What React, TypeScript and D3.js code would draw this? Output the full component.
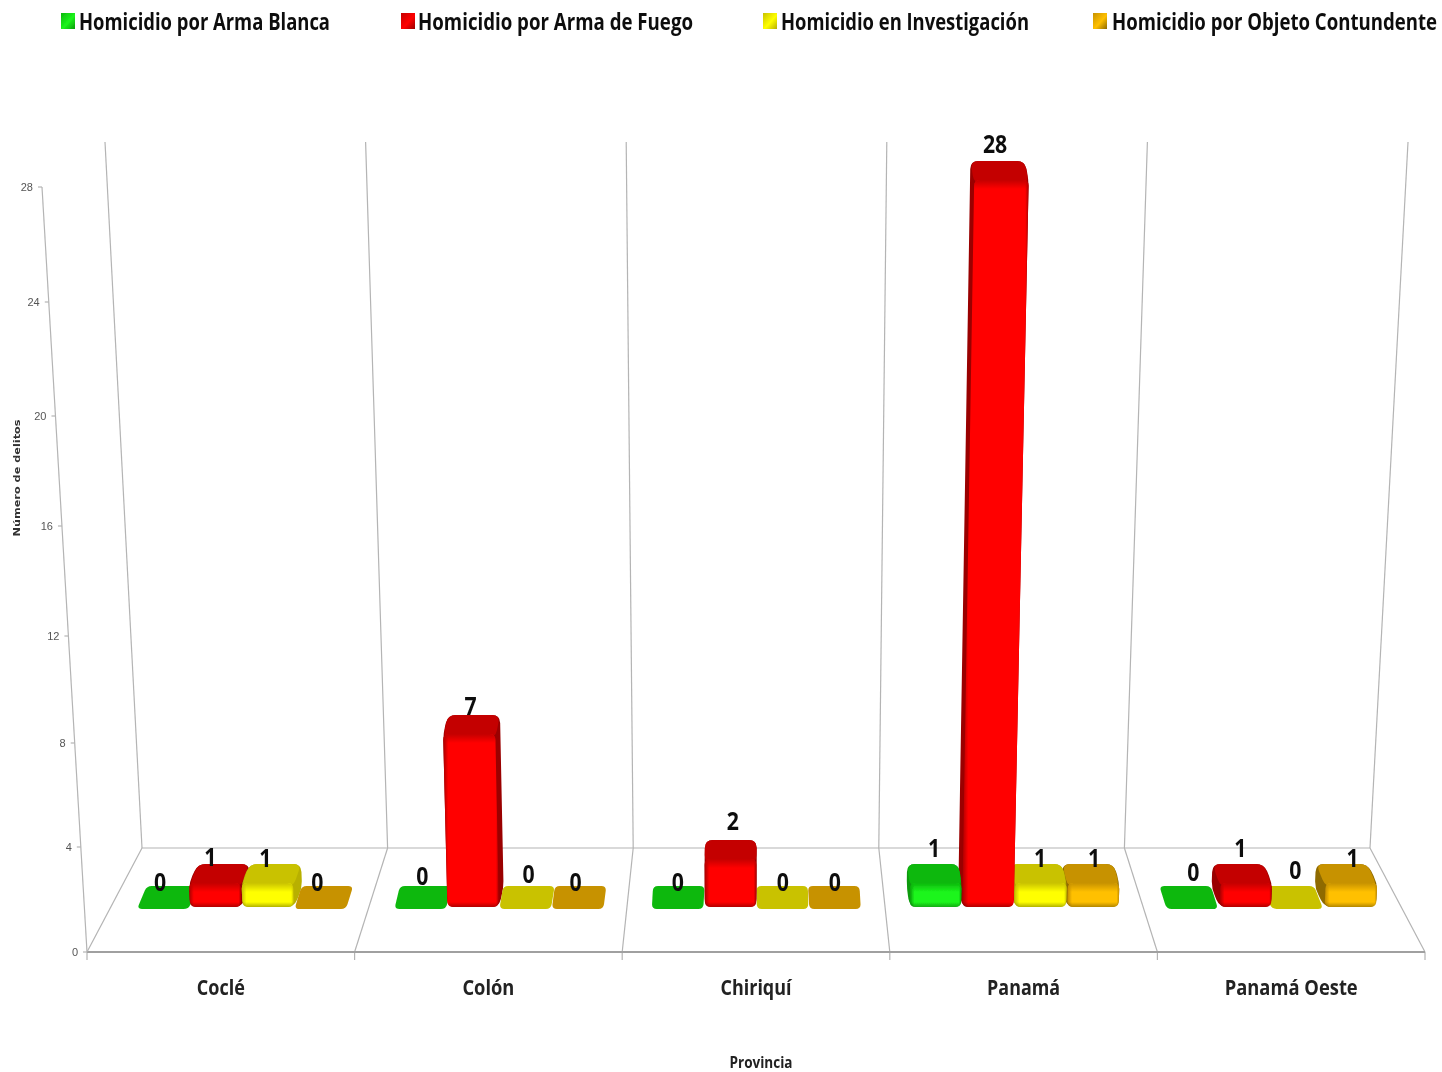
import React from "react";
import * as d3 from "d3";

const provinces = ["Coclé", "Colón", "Chiriquí", "Panamá", "Panamá Oeste"];
const seriesNames = [
  "Homicidio por Arma Blanca",
  "Homicidio por Arma de Fuego",
  "Homicidio en Investigación",
  "Homicidio por Objeto Contundente",
];
const armaBlanca = [0, 0, 0, 1, 0];
const armaFuego = [1, 7, 2, 28, 1];
const investigacion = [1, 0, 0, 1, 0];
const contundente = [0, 0, 0, 1, 1];
const seriesValues = [armaBlanca, armaFuego, investigacion, contundente];
const yTicks = [0, 4, 8, 12, 16, 20, 24, 28];

const palette = [
  { front: "#1cf51c", edge: "#0a9a0a", top: "#0cb80c", side: "#0a9a0a" },
  { front: "#ff0000", edge: "#a80000", top: "#c40000", side: "#9a0000" },
  { front: "#ffff00", edge: "#c8c000", top: "#c9c200", side: "#b8b000" },
  { front: "#ffc000", edge: "#c08a00", top: "#c79200", side: "#8e6a00" },
];

const W = 1442, H = 1072;
const cx = 756;
const yFront = 952, yBack = 848, yTop = 142, barBase = 907;
const frontX = d3.scaleLinear().domain([0, 5]).range([87, 1425]);
const backX = d3.scaleLinear().domain([0, 5]).range([142, 1370]);
const topX = d3.scaleLinear().domain([0, 5]).range([105, 1408]);
const axisY = d3.scaleLinear().domain(yTicks).range([952, 847, 743, 636, 526, 416, 302, 187]);
const axisX = d3.scaleLinear().domain([952, 187]).range([87, 42]);
const barTop = d3.scaleLinear().domain([1, 2, 7, 28]).range([864, 840, 715, 161]);
const group = d3.scaleBand().domain(provinces).range([112, 1399]);
const inner = d3.scaleBand().domain(seriesNames).range([25, 235]);

const depth = 19;
const skew = (x: number) => 0.0165 * (cx - x);
const lean = (x: number, y: number) => cx + (x - cx) * (1 + 8e-5 * (barBase - y));

type Pt = [number, number];
function rounded(pts: Pt[], r: number) {
  const p = d3.path();
  const n = pts.length;
  const along = (a: Pt, b: Pt, dist: number): Pt => {
    const L = Math.hypot(b[0] - a[0], b[1] - a[1]) || 1;
    const t = Math.min(dist / L, 0.5);
    return [a[0] + (b[0] - a[0]) * t, a[1] + (b[1] - a[1]) * t];
  };
  pts.forEach((c, i) => {
    const prev = pts[(i + n - 1) % n];
    const next = pts[(i + 1) % n];
    const a = along(c, prev, r);
    const b = along(c, next, r);
    if (i === 0) p.moveTo(a[0], a[1]);
    else p.lineTo(a[0], a[1]);
    p.quadraticCurveTo(c[0], c[1], b[0], b[1]);
  });
  p.closePath();
  return p.toString();
}

const labelDx = [
  [-8, -1, -1, 0, 4],
  [-10, -5, 2, 9, -1],
  [-7, 1, 0, 2, 2],
  [-7, -4, 0, 4, 7],
];
const labelDy = [
  [-2, -8, -2, -1, -12],
  [8, 6, -4, -2, -1],
  [9, -10, -2, 9, -14],
  [-2, -2, -2, 9, 9],
];

type Bar = { p: number; s: number; v: number; x0: number; x1: number };
const bars: Bar[] = [];
provinces.forEach((name, p) =>
  seriesNames.forEach((sn, s) => {
    const x0 = group(name)! + inner(sn)!;
    bars.push({ p, s, v: seriesValues[s][p], x0, x1: x0 + inner.bandwidth() });
  })
);
const order = [...bars].sort(
  (a, b) => Math.abs((b.x0 + b.x1) / 2 - cx) - Math.abs((a.x0 + a.x1) / 2 - cx)
);

function BarMark({ b }: { b: Bar }) {
  const c = palette[b.s];
  const xc = (b.x0 + b.x1) / 2;
  const dx = skew(xc);
  if (b.v === 0) {
    const yB = 886, yF = 909;
    const d = rounded(
      [
        [b.x0, yF],
        [b.x1 - 1, yF],
        [b.x1 - 1 + dx, yB],
        [b.x0 + dx, yB],
      ],
      5
    );
    return <path d={d} fill={c.top} />;
  }
  const back = barTop(b.v);
  const fy = back + depth;
  const l = b.x0 + 0.5, r = b.x1 - 0.5;
  const lt = lean(l, fy), rt = lean(r, fy);
  const hull: Pt[] =
    dx >= 0
      ? [
          [l, barBase],
          [r, barBase],
          [r + dx, barBase - depth],
          [rt + dx, back],
          [lt + dx, back],
          [lt, fy],
        ]
      : [
          [l, barBase],
          [r, barBase],
          [rt, fy],
          [rt + dx, back],
          [lt + dx, back],
          [l + dx, barBase - depth],
        ];
  const top: Pt[] = [
    [lt, fy + 4],
    [rt, fy + 4],
    [rt + dx, back],
    [lt + dx, back],
  ];
  const front: Pt[] = [
    [l, barBase],
    [r, barBase],
    [rt, fy],
    [lt, fy],
  ];
  const id = `fade${b.p}-${b.s}`;
  return (
    <g>
      <defs>
        <linearGradient id={id} gradientUnits="userSpaceOnUse" x1="0" x2="0" y1={fy} y2={barBase}>
          <stop offset="0" stopColor={c.top} stopOpacity={1} />
          <stop offset={Math.min(9 / (barBase - fy), 0.45)} stopColor={c.top} stopOpacity={0} />
          <stop offset={1 - 5 / (barBase - fy)} stopColor="#000" stopOpacity={0} />
          <stop offset="1" stopColor="#000" stopOpacity={0.3} />
        </linearGradient>
      </defs>
      <path d={rounded(hull, 8)} fill={c.side} />
      <path d={rounded(top, 8)} fill={c.top} />
      <path d={rounded(front, 6)} fill={`url(#front${b.s})`} />
      <path d={rounded(front, 6)} fill={`url(#${id})`} />
    </g>
  );
}

const sans = "'Open Sans', 'Noto Sans', sans-serif";
const legendSwatchX = [61, 401, 763, 1093];
const legendTextX = [79, 418, 781, 1112];
const legendTextW = [251, 275, 248, 325];
const catW = [48, 52, 71, 73, 133];
const squeeze = 0.8;

export default function App() {
  const grid = "#b4b4b4";
  return (
    <svg
      width={W}
      height={H}
      viewBox={`0 0 ${W} ${H}`}
      style={{ position: "absolute", left: 0, top: 0, background: "#fff" }}
    >
      <defs>
        {palette.map((c, i) => (
          <React.Fragment key={i}>
            <linearGradient id={`front${i}`} x1="0" x2="1" y1="0" y2="0">
              <stop offset="0" stopColor={c.edge} />
              <stop offset="0.09" stopColor={c.front} />
              <stop offset="0.95" stopColor={c.front} />
              <stop offset="1" stopColor={c.edge} />
            </linearGradient>
            <linearGradient id={`lg${i}`} x1="0" x2="1" y1="0" y2="1">
              <stop offset="0" stopColor={c.top} />
              <stop offset="0.55" stopColor={c.front} />
              <stop offset="1" stopColor={c.side} />
            </linearGradient>
          </React.Fragment>
        ))}
        <filter id="soft" x="-2%" y="-2%" width="104%" height="104%">
          <feGaussianBlur stdDeviation={0.5} />
        </filter>
      </defs>

      <g filter="url(#soft)">
        {seriesNames.map((n, i) => (
          <g key={n}>
            <rect x={legendSwatchX[i]} y={13} width={14} height={16} fill={`url(#lg${i})`} />
            <text
              transform={`translate(${legendTextX[i]},30) scale(${squeeze},1)`}
              fontFamily={sans}
              fontWeight={700}
              fontSize={22.5}
              fill="#111"
              textLength={legendTextW[i] / squeeze}
              lengthAdjust="spacingAndGlyphs"
            >
              {n}
            </text>
          </g>
        ))}

        <g stroke={grid} strokeWidth={1.2} fill="none">
          {d3.range(6).map((i) => (
            <g key={i}>
              <line x1={topX(i)} y1={yTop} x2={backX(i)} y2={yBack} />
              <line x1={backX(i)} y1={yBack} x2={frontX(i)} y2={yFront} />
              <line x1={frontX(i)} y1={yFront} x2={frontX(i)} y2={yFront + 8} />
            </g>
          ))}
          <line x1={backX(0)} y1={yBack} x2={backX(5)} y2={yBack} />
          <line x1={frontX(0)} y1={yFront} x2={frontX(5)} y2={yFront} stroke="#a0a0a0" strokeWidth={2} />
          <line x1={axisX(axisY(28))} y1={axisY(28)} x2={axisX(axisY(0))} y2={axisY(0)} />
        </g>

        {yTicks.map((t) => {
          const y = axisY(t);
          const x = axisX(y);
          return (
            <g key={t}>
              <line x1={x - 4} y1={y} x2={x} y2={y} stroke={grid} strokeWidth={1.2} />
              <text
                x={x - 9}
                y={y + 4}
                textAnchor="end"
                fontFamily="'Liberation Sans', sans-serif"
                fontSize={11}
                fill="#555"
              >
                {t}
              </text>
            </g>
          );
        })}
        <text
          transform="translate(20,478) rotate(-90)"
          textAnchor="middle"
          fontFamily="'DejaVu Sans', sans-serif"
          fontWeight={700}
          fontSize={9.5}
          fill="#333"
          textLength={117}
          lengthAdjust="spacingAndGlyphs"
        >
          Número de delitos
        </text>

        {order.map((b) => (
          <BarMark key={`${b.p}-${b.s}`} b={b} />
        ))}

        {bars.map((b) => {
          const xc = (b.x0 + b.x1) / 2;
          const x = xc + skew(xc) * 0.5 + labelDx[b.s][b.p];
          const y = (b.v === 0 ? 893 : barTop(b.v) - 6) + labelDy[b.s][b.p];
          return (
            <text
              key={`l${b.p}-${b.s}`}
              transform={`translate(${x},${y}) scale(0.85,1)`}
              textAnchor="middle"
              fontFamily={sans}
              fontWeight={700}
              fontSize={25}
              fill="#111"
            >
              {b.v}
            </text>
          );
        })}

        {provinces.map((n, i) => (
          <text
            key={n}
            transform={`translate(${(frontX(i) + frontX(i + 1)) / 2},995) scale(${squeeze},1)`}
            textAnchor="middle"
            fontFamily={sans}
            fontWeight={700}
            fontSize={21.5}
            fill="#222"
            textLength={catW[i] / squeeze}
            lengthAdjust="spacingAndGlyphs"
          >
            {n}
          </text>
        ))}
        <text
          transform={`translate(761,1068) scale(${squeeze},1)`}
          textAnchor="middle"
          fontFamily={sans}
          fontWeight={700}
          fontSize={16}
          fill="#222"
          textLength={63 / squeeze}
          lengthAdjust="spacingAndGlyphs"
        >
          Provincia
        </text>
      </g>
    </svg>
  );
}
